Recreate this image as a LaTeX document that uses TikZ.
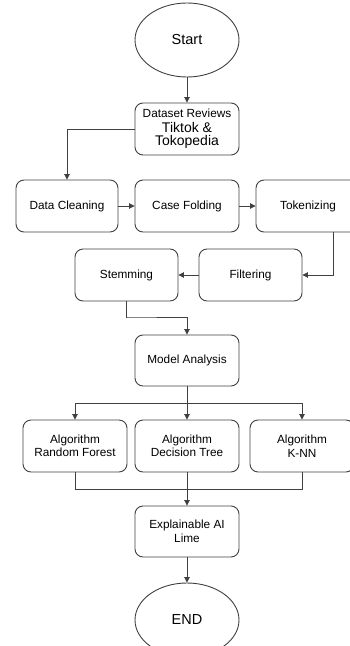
\documentclass[tikz,border=0pt]{standalone}
\usepackage{fontspec}
\setmainfont{Liberation Sans}
\usetikzlibrary{arrows.meta,shapes.geometric}
\tikzset{
  box/.style={draw=black!75, line width=0.9pt, rounded corners=8pt, minimum width=104pt, minimum height=52pt, inner sep=0pt, align=center, font=\fontsize{11.8}{13.5}\selectfont, text=black},
  term/.style={draw=black!75, line width=0.9pt, ellipse, minimum width=104pt, minimum height=74pt, inner sep=0pt, font=\fontsize{14.5}{16}\selectfont, text=black},
  conn/.style={draw=black!75, line width=0.9pt},
  arr/.style={conn, -{Triangle[length=5.5pt,width=5.5pt]}}
}
\begin{document}
\begin{tikzpicture}[x=1pt,y=-1pt]
\useasboundingbox (0,0) rectangle (350,646);
\clip (0,0) rectangle (350,646);
\node[term] (start) at (187,40) {Start};
\node[box] (data) at (187,129) {Dataset Reviews\\[1pt]{\fontsize{14}{15.5}\selectfont Tiktok \&}\\{\fontsize{14}{15.5}\selectfont Tokopedia}};
\node[box, minimum width=102pt] (dc) at (67,206) {Data Cleaning};
\node[box] (cf) at (187,206) {Case Folding};
\node[box] (tok) at (308,206) {Tokenizing};
\node[box, minimum width=103pt] (stem) at (126.5,275) {Stemming};
\node[box, minimum width=103pt] (filt) at (250.5,275) {Filtering};
\node[box, minimum height=51pt] (model) at (187,360.5) {Model Analysis};
\node[box] (rf) at (75,446) {Algorithm\\Random Forest};
\node[box] (dt) at (187,446) {Algorithm\\Decision Tree};
\node[box] (knn) at (302,446) {Algorithm\\K-NN};
\node[box, minimum height=51pt] (expl) at (187,531.5) {Explainable AI\\Lime};
\node[term] (end) at (187,620) {END};
\coordinate (tokout) at (333,232);
\coordinate (s1) at (127,317);
\coordinate (m1) at (187,403);
\coordinate (ml) at (75,403);
\coordinate (mr) at (302,403);
\coordinate (b1) at (187,489);
\coordinate (bl) at (75,489);
\coordinate (br) at (302,489);
\draw[arr] (start) -- (data);
\draw[arr] (data.west) -| (dc.north);
\draw[arr] (dc) -- (cf);
\draw[arr] (cf) -- (tok);
\draw[arr] (tokout) |- (filt.east);
\draw[arr] (filt) -- (stem);
\draw[arr] (stem.south) |- (s1) -| (model.north);
\draw[conn] (model.south) -- (m1);
\draw[conn] (ml) -- (mr);
\draw[arr] (ml) -- (rf.north);
\draw[arr] (m1) -- (dt.north);
\draw[arr] (mr) -- (knn.north);
\draw[conn] (rf.south) -- (bl) -- (br) -- (knn.south);
\draw[conn] (dt.south) -- (b1);
\draw[arr] (b1) -- (expl.north);
\draw[arr] (expl) -- (end);
\end{tikzpicture}
\end{document}
